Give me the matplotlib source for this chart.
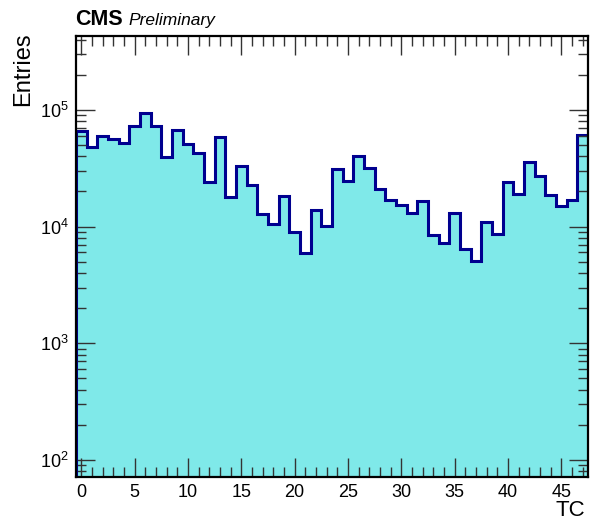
import numpy as np
import matplotlib
matplotlib.use("Agg")
import matplotlib.pyplot as plt
from matplotlib.ticker import MultipleLocator, LogLocator, NullFormatter

plt.rcParams['font.family'] = ['Liberation Sans', 'DejaVu Sans']

# TC bins 0..47, entries
tc_bins = np.arange(48)
entries = [66600, 47900, 60200, 56100, 52500, 72900, 93600, 72900,
           39800, 67400, 51200, 42500, 24300, 58300, 18100, 33100,
           22800, 12800, 10500, 18300, 9060, 5980, 13900, 10200,
           31000, 24800, 40400, 31600, 21000, 16900, 15400, 13000,
           16600, 8490, 7200, 13000, 6400, 5110, 10900, 8650,
           24000, 19000, 36100, 26900, 18700, 15000, 16900, 61100]

fig = plt.figure(figsize=(5.9, 5.21), dpi=100)
ax = fig.add_axes([0.1288, 0.0845, 0.8678, 0.8464])

edges = np.append(tc_bins - 0.5, tc_bins[-1] + 0.5)
ax.hist(tc_bins, bins=edges, weights=entries, histtype='stepfilled',
        color='#7fe9e9', edgecolor='none', log=True)
ax.stairs(entries, edges, baseline=None, color='#00008f', linewidth=2.2)
ax.plot([edges[0], edges[0]], [1, entries[0]], color='#00008f', linewidth=2.2)

ax.set_xlim(-0.5, 47.5)
ax.set_yscale('log')
ax.set_ylim(71.5, 4.3e5)

ax.xaxis.set_major_locator(MultipleLocator(5))
ax.xaxis.set_minor_locator(MultipleLocator(1))
ax.yaxis.set_major_locator(LogLocator(base=10))
ax.yaxis.set_minor_locator(LogLocator(base=10, subs=np.arange(2, 10)))
ax.yaxis.set_minor_formatter(NullFormatter())

ax.tick_params(which='both', direction='in', top=True, right=True,
               labelsize=13, width=1, color='#333333')
ax.tick_params(which='major', length=14, pad=5)
ax.tick_params(which='minor', length=7)
for sp in ax.spines.values():
    sp.set_linewidth(1.6)

# axis titles in ROOT position
fig.text(0.039, 0.937, 'Entries', fontsize=17, rotation=90, ha='center', va='top')
fig.text(0.992, 0.01, 'TC', fontsize=16, ha='right', va='baseline')

fig.text(0.127, 0.952, 'CMS', fontsize=15.5, fontweight='bold', ha='left', va='baseline')
fig.text(0.217, 0.952, 'Preliminary', fontsize=12.5, style='italic', ha='left', va='baseline')

fig.savefig('out.png', dpi=100)
